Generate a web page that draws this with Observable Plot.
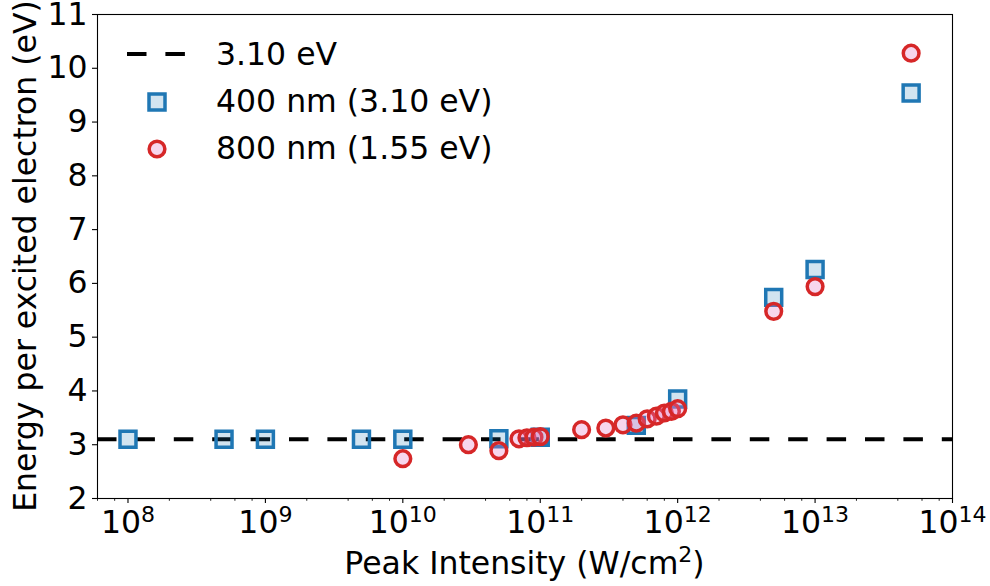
<!DOCTYPE html>
<html><head><meta charset="utf-8">
<script src="https://cdn.jsdelivr.net/npm/d3@7"></script>
<script src="https://cdn.jsdelivr.net/npm/@observablehq/plot@0.6"></script>
<style>
html,body{margin:0;padding:0;background:#fff;}
#wrap{position:relative;width:990px;height:586px;font-family:"DejaVu Sans",sans-serif;}
</style></head><body><div id="wrap"></div>
<script>
// ---- data ----
const refEnergy = 3.10;
const x400 = [1e8, 5e8, 1e9, 5e9, 1e10, 5e10, 1e11, 5e11, 1e12, 5e12, 1e13, 5e13];
const y400 = [3.10, 3.10, 3.10, 3.10, 3.10, 3.11, 3.14, 3.36, 3.85, 5.74, 6.26, 9.54];
const x800 = [1e10, 3e10, 5e10, 7e10, 8e10, 9e10, 1e11, 2e11, 3e11, 4e11, 5e11, 6e11, 7e11, 8e11, 9e11, 1e12, 5e12, 1e13, 5e13];
const y800 = [2.74, 3.00, 2.89, 3.11, 3.13, 3.14, 3.15, 3.28, 3.31, 3.37, 3.40, 3.48, 3.53, 3.59, 3.62, 3.67, 5.48, 5.94, 10.28];
const xMajorTicks = [1e8, 1e9, 1e10, 1e11, 1e12, 1e13, 1e14];
const xTickExponents = ["8", "9", "10", "11", "12", "13", "14"];
const xMinorTicks = [6e7, 8e7, 2e8, 4e8, 6e8, 8e8, 2e9, 4e9, 6e9, 8e9, 2e10, 4e10, 6e10, 8e10,
  2e11, 4e11, 6e11, 8e11, 2e12, 4e12, 6e12, 8e12, 2e13, 4e13, 6e13, 8e13];
const yTicks = [2, 3, 4, 5, 6, 7, 8, 9, 10, 11];
const legendLabels = ["3.10 eV", "400 nm (3.10 eV)", "800 nm (1.55 eV)"];
const xLabelParts = ["Peak Intensity (W/cm", "2", ")"];
const yLabel = "Energy per excited electron (eV)";

const BLUE = "#1f77b4", RED = "#d62728", PINK = "#e377c2";
const FS = 31.5;

const d400 = x400.map((x, i) => ({x, y: y400[i]}));
const d800 = x800.map((x, i) => ({x, y: y800[i]}));

const plot = Plot.plot({
  width: 990, height: 586,
  marginLeft: 97, marginRight: 38, marginTop: 14, marginBottom: 88,
  style: {fontFamily: "DejaVu Sans", fontSize: FS + "px", color: "black", background: "white", overflow: "visible"},
  x: {type: "log", domain: [6e7, 1e14]},
  y: {domain: [2, 11]},
  marks: [
    Plot.ruleY([refEnergy], {stroke: "black", strokeWidth: 4, strokeDasharray: "19.5,18.9"}),
    Plot.dot(d400, {x: "x", y: "y", symbol: "square", r: 9.0, stroke: BLUE, strokeWidth: 3.5, fill: BLUE, fillOpacity: 0.2}),
    Plot.dot(d800, {x: "x", y: "y", symbol: "circle", r: 7.85, stroke: RED, strokeWidth: 3.5, fill: PINK, fillOpacity: 0.3}),
    Plot.axisX({ticks: xMajorTicks, tickSize: 5, tickPadding: 7, strokeWidth: 1.1,
      tickFormat: d => "10^" + xTickExponents[xMajorTicks.indexOf(d)], label: null}),
    Plot.axisX({ticks: xMinorTicks, tickSize: 2.8, strokeWidth: 0.85, tickFormat: () => "", label: null}),
    Plot.axisY({ticks: yTicks, tickSize: 5, tickPadding: 5, strokeWidth: 1.1, label: null}),
    Plot.frame({stroke: "black", strokeWidth: 1.1})
  ]
});

document.getElementById("wrap").appendChild(plot);
const svg = d3.select(plot);

// superscripts for log tick labels
svg.selectAll("text").each(function() {
  const m = (this.textContent || "").match(/^10\^(\d+)$/);
  if (!m) return;
  const t = d3.select(this);
  t.text(null);
  t.append("tspan").text("10");
  t.append("tspan").attr("font-size", (FS * 0.7) + "px").attr("dy", -11).text(m[1]);
});

const xs = plot.scale("x"), ys = plot.scale("y");
const xc = (xs.range[0] + xs.range[1]) / 2;
const yc = (ys.range[0] + ys.range[1]) / 2;

// axis titles
const xl = svg.append("text").attr("x", xc).attr("y", 574).attr("text-anchor", "middle")
  .attr("font-family", "DejaVu Sans").attr("font-size", FS + "px").attr("fill", "black");
xl.append("tspan").text(xLabelParts[0]);
xl.append("tspan").attr("font-size", (FS * 0.7) + "px").attr("dy", -12).text(xLabelParts[1]);
xl.append("tspan").attr("dy", 12).text(xLabelParts[2]);

svg.append("text").attr("transform", `translate(36,${yc}) rotate(-90)`).attr("text-anchor", "middle")
  .attr("font-family", "DejaVu Sans").attr("font-size", FS + "px").attr("fill", "black").text(yLabel);

// legend overlay
const leg = d3.select("#wrap").append("svg")
  .attr("width", 420).attr("height", 150)
  .style("position", "absolute").style("left", "110px").style("top", "30px")
  .style("overflow", "visible");
leg.append("line").attr("x1", 17).attr("x2", 77).attr("y1", 24).attr("y2", 24)
  .attr("stroke", "black").attr("stroke-width", 4).attr("stroke-dasharray", "19.5,18.9");
leg.append("rect").attr("x", 47 - 8).attr("y", 72 - 8).attr("width", 16).attr("height", 16)
  .attr("stroke", BLUE).attr("stroke-width", 3.5).attr("fill", BLUE).attr("fill-opacity", 0.2);
leg.append("circle").attr("cx", 47).attr("cy", 119).attr("r", 7.85)
  .attr("stroke", RED).attr("stroke-width", 3.5).attr("fill", PINK).attr("fill-opacity", 0.3);
const baselines = [35, 82, 129];
legendLabels.forEach((s, i) => {
  leg.append("text").attr("x", 106).attr("y", baselines[i])
    .attr("font-family", "DejaVu Sans").attr("font-size", FS + "px").attr("fill", "black").text(s);
});
</script></body></html>
